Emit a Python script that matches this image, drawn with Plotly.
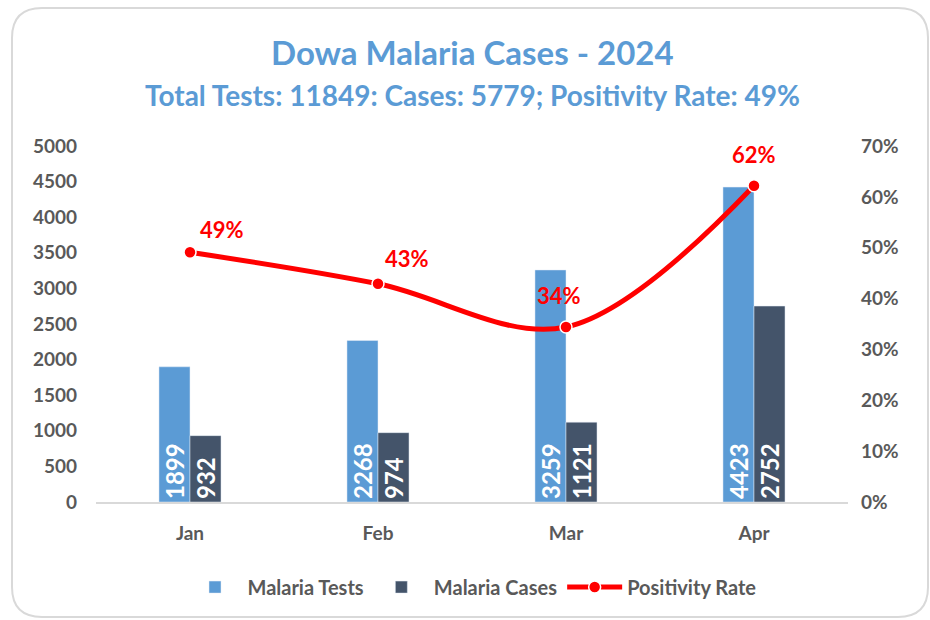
import plotly.graph_objects as go

months = ["Jan", "Feb", "Mar", "Apr"]
malaria_tests = [1899, 2268, 3259, 4423]
malaria_cases = [932, 974, 1121, 2752]
positivity_rate = [0.491, 0.429, 0.344, 0.622]
rate_labels = ["49%", "43%", "34%", "62%"]

TITLE = "Dowa Malaria Cases - 2024"
SUBTITLE = "Total Tests: 11849: Cases: 5779; Positivity Rate: 49%"

BLUE = "#5B9BD5"
NAVY = "#44546A"
RED = "#FF0000"
GREY = "#595959"
FONT = "Lato"

# pixel nudges for the rate labels, one per month
label_dx = [32, 29, -7, 0]
label_dy = [23, 25, 32, 31]


def rounded_box(x0, y0, x1, y1, rx, ry):
    # svg path for a rounded rectangle in paper coords
    return (
        f"M {x0 + rx},{y1} L {x1 - rx},{y1} Q {x1},{y1} {x1},{y1 - ry} "
        f"L {x1},{y0 + ry} Q {x1},{y0} {x1 - rx},{y0} "
        f"L {x0 + rx},{y0} Q {x0},{y0} {x0},{y0 + ry} "
        f"L {x0},{y1 - ry} Q {x0},{y1} {x0 + rx},{y1} Z"
    )


bar_text = dict(family=FONT, size=24, color="white", weight="bold")

fig = go.Figure()

fig.add_trace(go.Bar(
    x=months, y=malaria_tests, name="Malaria Tests",
    marker_color=BLUE,
    text=[str(v) for v in malaria_tests],
    textposition="inside", insidetextanchor="start", textangle=-90,
    constraintext="none", textfont=bar_text,
))
fig.add_trace(go.Bar(
    x=months, y=malaria_cases, name="Malaria Cases",
    marker_color=NAVY,
    text=[str(v) for v in malaria_cases],
    textposition="inside", insidetextanchor="start", textangle=-90,
    constraintext="none", textfont=bar_text,
))
fig.add_trace(go.Scatter(
    x=months, y=positivity_rate, name="Positivity Rate", yaxis="y2",
    mode="lines+markers",
    line=dict(color=RED, width=5, shape="spline", smoothing=1.0),
    marker=dict(color=RED, size=12, line=dict(color="white", width=1.5)),
))

rate_notes = [
    dict(x=m, y=r, xref="x", yref="y2", text=t, showarrow=False,
         xshift=dx, yshift=dy,
         font=dict(family=FONT, size=22, color=RED, weight="bold"))
    for m, r, t, dx, dy in zip(months, positivity_rate, rate_labels,
                               label_dx, label_dy)
]

tick_font = dict(size=19, color=GREY, weight="bold")

fig.update_layout(
    width=930, height=620,
    margin=dict(l=96, r=82, t=146, b=118),
    paper_bgcolor="white", plot_bgcolor="white",
    font=dict(family=FONT, color=GREY),
    barmode="group", bargap=0.67, bargroupgap=0,
    xaxis=dict(
        showgrid=False, showline=True, linecolor="#D9D9D9", linewidth=2,
        ticks="", tickfont=tick_font, ticklabelstandoff=13,
    ),
    yaxis=dict(
        range=[0, 5000], dtick=500, showgrid=False, zeroline=False,
        tickfont=tick_font, ticklabelstandoff=18,
    ),
    yaxis2=dict(
        overlaying="y", side="right", range=[0, 0.7], dtick=0.1,
        tickformat=".0%", showgrid=False, zeroline=False,
        tickfont=tick_font, ticklabelstandoff=12,
    ),
    legend=dict(
        orientation="h", x=0.5, xanchor="center", y=-0.239, yanchor="middle",
        font=dict(size=20, color=GREY, weight="bold"), itemwidth=55,
    ),
    annotations=[
        dict(text=TITLE, xref="paper", yref="paper", x=0.5, y=1.264,
             showarrow=False, xanchor="center", yanchor="middle",
             font=dict(family=FONT, size=33, color=BLUE, weight="bold")),
        dict(text=SUBTITLE, xref="paper", yref="paper", x=0.5, y=1.143,
             showarrow=False, xanchor="center", yanchor="middle",
             font=dict(family=FONT, size=28, color=BLUE, weight="bold")),
    ] + rate_notes,
    shapes=[dict(
        type="path", xref="paper", yref="paper",
        path=rounded_box(-0.1117, -0.323, 1.1064, 1.3876, 0.04, 0.084),
        line=dict(color="#D9D9D9", width=2),
    )],
)

fig.write_html("out.html", config={"displayModeBar": False},
               post_script="document.body.style.margin='0px';")
